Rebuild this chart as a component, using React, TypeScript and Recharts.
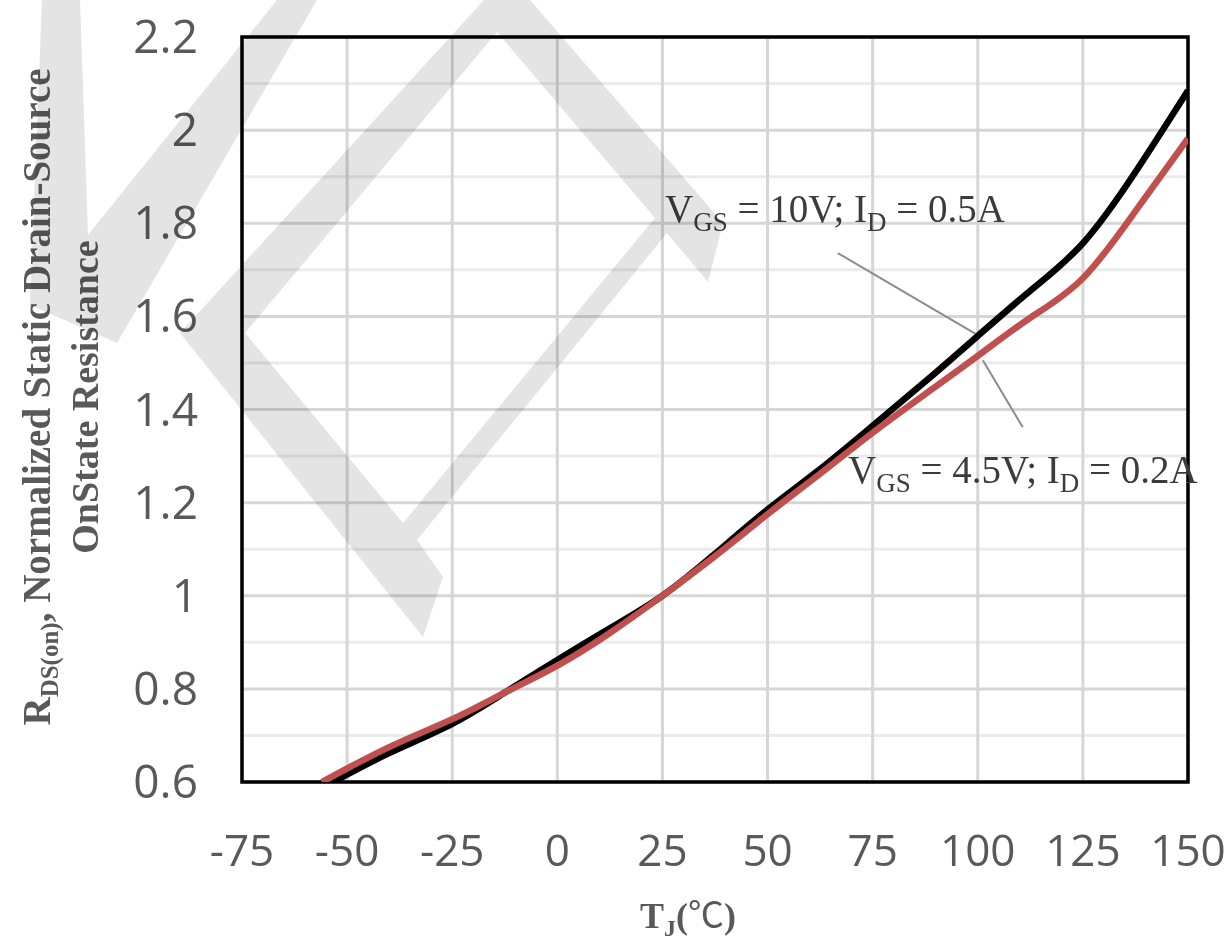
import { LineChart, Line, XAxis, YAxis, CartesianGrid, ReferenceArea, ReferenceLine } from 'recharts'

// Tj (°C) and normalized RDS(on)
const T_10V = [-53.3, -40, -25, -12.5, 0, 12.5, 25, 37.5, 50, 62.5, 75, 87.5, 100, 112.5, 125, 137.5, 150]
const R_10V = [0.6, 0.662, 0.725, 0.792, 0.862, 0.93, 1.0, 1.09, 1.185, 1.272, 1.365, 1.46, 1.558, 1.655, 1.757, 1.91, 2.085]
const T_45V = [-56, -40, -25, -12.5, 0, 12.5, 25, 37.5, 50, 62.5, 75, 87.5, 100, 112.5, 125, 137.5, 150]
const R_45V = [0.6, 0.675, 0.735, 0.792, 0.85, 0.92, 1.0, 1.085, 1.175, 1.262, 1.35, 1.433, 1.515, 1.597, 1.682, 1.826, 1.982]

const X_TICKS = [-75, -50, -25, 0, 25, 50, 75, 100, 125, 150]
const Y_TICKS = [0.6, 0.8, 1, 1.2, 1.4, 1.6, 1.8, 2, 2.2]
const Y_MINOR = [0.7, 0.9, 1.1, 1.3, 1.5, 1.7, 1.9, 2.1]
const Y_DOMAIN = [0.6, 2.2]

// callout leader lines, in data units: [t1, r1, t2, r2]
const LEADER_10V = [66.7, 1.736, 100.7, 1.556]
const LEADER_45V = [101.2, 1.506, 110.7, 1.362]

const rows10 = T_10V.map((t, i) => ({ t, r: R_10V[i] }))
const rows45 = T_45V.map((t, i) => ({ t, r: R_45V[i] }))

const W = 1232
const H = 942
const PLOT_LEFT = 242
const PLOT_BOTTOM = 782
const TICK_COLOR = '#595959'
const SERIF = '"Liberation Serif", "Times New Roman", serif'

function XTick({ x, payload }: any) {
  return (
    <text x={x} y={PLOT_BOTTOM + 84} textAnchor="middle" fontFamily="Open Sans" fontSize={44} fill={TICK_COLOR}>
      {String(payload.value)}
    </text>
  )
}

function YTick({ y, payload }: any) {
  return (
    <text x={PLOT_LEFT - 44} y={y + 16} textAnchor="end" fontFamily="Open Sans" fontSize={46} fill={TICK_COLOR}>
      {String(payload.value)}
    </text>
  )
}

// minor horizontal grid at the 0.1 steps
function minorRows({ yAxis, offset }: any) {
  return Y_MINOR.map(v => {
    if (yAxis && typeof yAxis.scale === 'function') return yAxis.scale(v)
    return offset.top + (offset.height * (Y_DOMAIN[1] - v)) / (Y_DOMAIN[1] - Y_DOMAIN[0])
  })
}

export default function App() {
  return (
    <div style={{ position: 'fixed', left: 0, top: 0, width: W, height: H, background: '#fff' }}>
      <LineChart width={W} height={H} margin={{ top: 37, right: 44, bottom: 100, left: 142 }}>
        <CartesianGrid stroke="#ebebeb" strokeWidth={3} vertical={false} horizontalCoordinatesGenerator={minorRows} />
        <CartesianGrid stroke="#d6d6d6" strokeWidth={3} />
        <XAxis
          dataKey="t"
          type="number"
          domain={[-75, 150]}
          ticks={X_TICKS}
          allowDataOverflow
          axisLine={false}
          tickLine={false}
          height={60}
          tick={<XTick />}
        />
        <YAxis
          type="number"
          domain={Y_DOMAIN}
          ticks={Y_TICKS}
          allowDataOverflow
          axisLine={false}
          tickLine={false}
          width={100}
          tick={<YTick />}
        />
        <ReferenceArea x1={-75} x2={150} y1={0.6} y2={2.2} fill="none" stroke="#000" strokeWidth={3.5} />
        <ReferenceLine
          segment={[{ x: LEADER_10V[0], y: LEADER_10V[1] }, { x: LEADER_10V[2], y: LEADER_10V[3] }]}
          stroke="#8c8c8c"
          strokeWidth={2}
        />
        <ReferenceLine
          segment={[{ x: LEADER_45V[0], y: LEADER_45V[1] }, { x: LEADER_45V[2], y: LEADER_45V[3] }]}
          stroke="#8c8c8c"
          strokeWidth={2}
        />
        <Line data={rows10} dataKey="r" type="natural" stroke="#000" strokeWidth={6.5} dot={false} activeDot={false} isAnimationActive={false} />
        <Line data={rows45} dataKey="r" type="natural" stroke="#c0504d" strokeWidth={6.5} dot={false} activeDot={false} isAnimationActive={false} />
      </LineChart>

      {/* titles and callouts */}
      <svg width={W} height={H} style={{ position: 'absolute', left: 0, top: 0, pointerEvents: 'none' }}>
        <text transform="translate(50,397) rotate(-90)" textAnchor="middle" fontFamily={SERIF} fontWeight="bold" fontSize={39} fill={TICK_COLOR}>
          R<tspan dy={8} fontSize={25}>DS(on)</tspan>
          <tspan dy={-8}>, Normalized Static Drain-Source</tspan>
        </text>
        <text transform="translate(98,397) rotate(-90)" textAnchor="middle" fontFamily={SERIF} fontWeight="bold" fontSize={38} fill={TICK_COLOR}>
          OnState Resistance
        </text>
        <text x={688} y={928} textAnchor="middle" fontFamily={SERIF} fontWeight="bold" fontSize={36} fill={TICK_COLOR}>
          T<tspan dy={8} fontSize={24}>J</tspan>
          <tspan dy={-8}>(</tspan>
          <tspan fontWeight="normal" fontFamily="Noto Sans CJK SC">℃</tspan>
          <tspan>)</tspan>
        </text>
        <text x={665} y={222} fontFamily={SERIF} fontSize={39} fill="#3b3b3b">
          V<tspan dy={9} fontSize={27}>GS</tspan>
          <tspan dy={-9}> = 10V; I</tspan>
          <tspan dy={9} fontSize={27}>D</tspan>
          <tspan dy={-9}> = 0.5A</tspan>
        </text>
        <text x={848} y={483} fontFamily={SERIF} fontSize={39} fill="#3b3b3b">
          V<tspan dy={9} fontSize={27}>GS</tspan>
          <tspan dy={-9}> = 4.5V; I</tspan>
          <tspan dy={9} fontSize={27}>D</tspan>
          <tspan dy={-9}> = 0.2A</tspan>
        </text>
      </svg>

      {/* faint watermark */}
      <svg width={W} height={H} style={{ position: 'absolute', left: 0, top: 0, pointerEvents: 'none', mixBlendMode: 'multiply' }}>
        <polygon points="42,0 80,0 88,235 277,0 317,0 117,343 30,305" fill="#e4e4e4" />
        <path
          d="M180,333 L484,0 L530,0 L723,223 L708,282 L667,233 L417,540 L443,577 L423,637 Z M245,333 L497,32 L655,218 L403,523 Z"
          fill="#e4e4e4"
          fillRule="evenodd"
        />
      </svg>
    </div>
  )
}
